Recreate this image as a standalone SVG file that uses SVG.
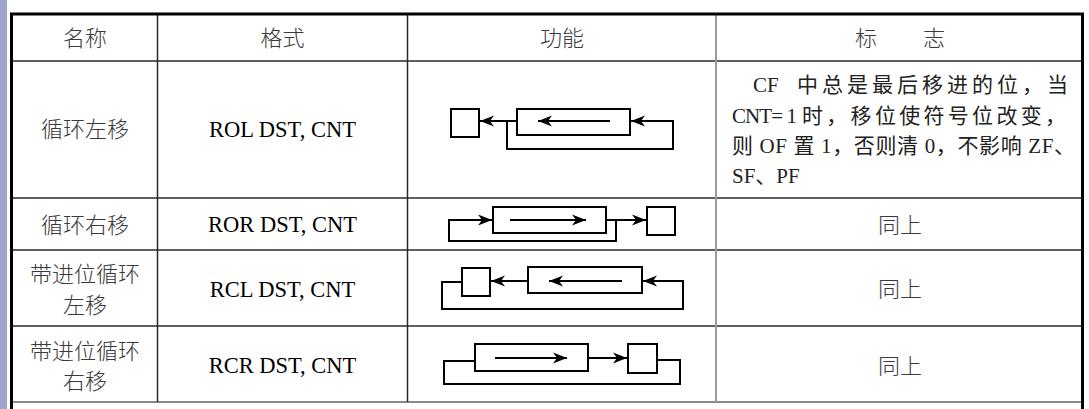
<svg xmlns="http://www.w3.org/2000/svg" width="1089" height="409" viewBox="0 0 1089 409">
<style>
.cj{font-family:"Noto Sans CJK SC","Liberation Serif",sans-serif;font-size:22px;fill:#3a3a3a;font-weight:300}
.lt{font-family:"Liberation Serif","Noto Sans CJK SC",serif;font-size:22.5px;fill:#000}
.mx{font-family:"Liberation Serif","Noto Sans CJK SC",serif;font-size:21px;fill:#222}
.grid{stroke:#2a2a2a;stroke-width:1.5;fill:none}
.box{fill:#fff;stroke:#000;stroke-width:2}
.wire{fill:none;stroke:#000;stroke-width:2}
</style>
<defs>
<marker id="ah" markerUnits="userSpaceOnUse" markerWidth="15" markerHeight="12" refX="14" refY="5.5" orient="auto" viewBox="0 0 15 11">
<path d="M0,0 L14,5.5 L0,11 L4,5.5 Z" fill="#000"/>
</marker>
</defs>
<rect x="0" y="0" width="1089" height="409" fill="#fff"/>
<rect x="0" y="0" width="7" height="409" fill="#9ea5cc"/>
<g id="table">
<line class="grid" x1="13" y1="61" x2="1081" y2="61"/>
<line class="grid" x1="13" y1="198" x2="1081" y2="198"/>
<line class="grid" x1="13" y1="250" x2="1081" y2="250"/>
<line class="grid" x1="13" y1="326" x2="1081" y2="326"/>
<line x1="13" y1="402" x2="1081" y2="402" stroke="#8a8a8a" stroke-width="2"/>
<line class="grid" x1="157.5" y1="15" x2="157.5" y2="402"/>
<line class="grid" x1="407.5" y1="15" x2="407.5" y2="402"/>
<line x1="716" y1="15" x2="716" y2="402" stroke="#9a9a9a" stroke-width="2"/>
<path d="M11.5,409 V14 H1082.5 V409" fill="none" stroke="#000" stroke-width="3"/>
</g>
<g id="header">
<text class="cj" x="85" y="46" text-anchor="middle">名称</text>
<text class="cj" x="282.5" y="46" text-anchor="middle">格式</text>
<text class="cj" x="562" y="46" text-anchor="middle">功能</text>
<text class="cj" x="866" y="46" text-anchor="middle">标</text>
<text class="cj" x="934" y="46" text-anchor="middle">志</text>
</g>
<g id="row-rol">
<text class="cj" x="85" y="136.5" text-anchor="middle">循环左移</text>
<text class="lt" x="282.5" y="137" text-anchor="middle">ROL DST, CNT</text>
<rect class="box" x="451" y="109" width="28" height="28"/>
<rect class="box" x="517" y="109" width="113" height="26"/>
<text class="mx" x="753" y="92">CF</text>
<text class="mx" x="797" y="92" textLength="271" lengthAdjust="spacing">中总是最后移进的位，当</text>
<text class="mx" x="732" y="123" textLength="65" lengthAdjust="spacing">CNT= 1</text>
<text class="mx" x="802" y="123" textLength="264" lengthAdjust="spacing">时，移位使符号位改变，</text>
<text class="mx" x="732" y="153" textLength="343" lengthAdjust="spacing">则 OF 置 1，否则清 0，不影响 ZF、</text>
<text class="mx" x="732" y="183">SF、PF</text>
</g>
<g id="row-ror">
<text class="cj" x="85" y="232.5" text-anchor="middle">循环右移</text>
<text class="lt" x="282.5" y="231.5" text-anchor="middle">ROR DST, CNT</text>
<rect class="box" x="493" y="207" width="113" height="26"/>
<rect class="box" x="647" y="207" width="28" height="28"/>
<text class="cj" x="900" y="233" text-anchor="middle">同上</text>
</g>
<g id="row-rcl">
<text class="cj" x="85" y="281.5" text-anchor="middle">带进位循环</text>
<text class="cj" x="85" y="312.5" text-anchor="middle">左移</text>
<text class="lt" x="282.5" y="296.5" text-anchor="middle">RCL DST, CNT</text>
<rect class="box" x="462" y="268" width="28" height="28"/>
<rect class="box" x="528" y="267" width="114" height="26"/>
<text class="cj" x="900" y="296.5" text-anchor="middle">同上</text>
</g>
<g id="row-rcr">
<text class="cj" x="85" y="358.5" text-anchor="middle">带进位循环</text>
<text class="cj" x="85" y="388.5" text-anchor="middle">右移</text>
<text class="lt" x="282.5" y="373" text-anchor="middle">RCR DST, CNT</text>
<rect class="box" x="475" y="344" width="113" height="27"/>
<rect class="box" x="628" y="344" width="29" height="29"/>
<text class="cj" x="900" y="373.5" text-anchor="middle">同上</text>
</g>
<g id="connectors">
<line class="wire" x1="610" y1="121" x2="538" y2="121" marker-end="url(#ah)"/>
<line class="wire" x1="517" y1="121" x2="480" y2="121" marker-end="url(#ah)"/>
<path class="wire" d="M507,121 V149 H673 V121 H631" marker-end="url(#ah)"/>
<line class="wire" x1="510" y1="220" x2="586" y2="220" marker-end="url(#ah)"/>
<line class="wire" x1="606" y1="220" x2="646" y2="220" marker-end="url(#ah)"/>
<path class="wire" d="M616,220 V241 H449 V220 H492" marker-end="url(#ah)"/>
<line class="wire" x1="622" y1="281" x2="549" y2="281" marker-end="url(#ah)"/>
<line class="wire" x1="528" y1="281" x2="491" y2="281" marker-end="url(#ah)"/>
<path class="wire" d="M462,282 H442 V309 H683 V281 H643" marker-end="url(#ah)"/>
<line class="wire" x1="495" y1="358" x2="567" y2="358" marker-end="url(#ah)"/>
<line class="wire" x1="588" y1="358" x2="627" y2="358" marker-end="url(#ah)"/>
<path class="wire" d="M657,360 H680 V384 H444 V361 H475"/>
</g>
</svg>
